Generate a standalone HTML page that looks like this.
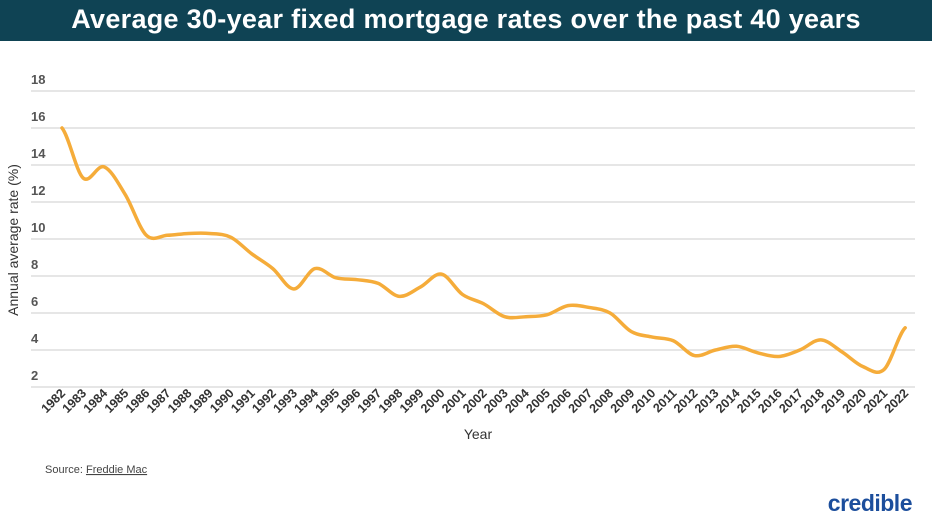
<!DOCTYPE html>
<html><head><meta charset="utf-8"><style>
body{margin:0;width:932px;height:524px;background:#fff;overflow:hidden;font-family:"Liberation Sans",sans-serif}
.t{position:absolute;left:0;top:0;width:932px;height:41px;background:#0f4354;color:#fff;font-weight:bold;font-size:27px;text-align:center;line-height:38px;letter-spacing:0.3px}
</style></head><body>
<div class="t">Average 30-year fixed mortgage rates over the past 40 years</div>
<svg width="932" height="524" style="position:absolute;left:0;top:0" id="s">
<g id="g"></g>
<text x="18" y="240" transform="rotate(-90 18 240)" text-anchor="middle" font-size="14" fill="#333" font-family="Liberation Sans">Annual average rate (%)</text>
<text x="478" y="439" text-anchor="middle" font-size="14" fill="#333" font-family="Liberation Sans">Year</text>
<text x="45" y="473" font-size="11" fill="#444" font-family="Liberation Sans">Source: <tspan text-decoration="underline">Freddie Mac</tspan></text>
<text x="912" y="511" text-anchor="end" font-size="23" font-weight="bold" fill="#1c4e9c" font-family="Liberation Sans" letter-spacing="-0.5">credible</text>
</svg>
<script>
var d=[16.0,13.3,13.9,12.4,10.2,10.2,10.3,10.3,10.1,9.2,8.4,7.3,8.4,7.9,7.8,7.6,6.9,7.4,8.1,7.0,6.5,5.8,5.8,5.9,6.4,6.3,6.0,5.0,4.7,4.5,3.7,4.0,4.2,3.85,3.65,4.0,4.55,3.9,3.1,2.95,5.2];
var g=document.getElementById('g'),h='';
function Y(v){return 387-(v-2)*18.5}
function X(i){return 62+i*21.08}
for(var v=2;v<=18;v+=2){var y=Y(v);h+='<line x1="31" x2="915" y1="'+y+'" y2="'+y+'" stroke="#d6d6d6" stroke-width="1.2"/><text x="31" y="'+(y-7)+'" font-size="13" font-weight="bold" fill="#555" font-family="Liberation Sans">'+v+'</text>';}
for(var i=0;i<d.length;i++){var x=X(i)+4,y=394;h+='<text x="'+x+'" y="'+y+'" transform="rotate(-45 '+x+' '+y+')" text-anchor="end" font-size="12.5" font-weight="bold" fill="#333" font-family="Liberation Sans">'+(1982+i)+'</text>';}
var p='M'+X(0)+' '+Y(d[0]);
for(i=0;i<d.length-1;i++){var a=d[Math.max(i-1,0)],b=d[i],c=d[i+1],e=d[Math.min(i+2,d.length-1)];
var c1x=X(i)+21.08/3,c1y=Y(b)+(Y(c)-Y(a))/6,c2x=X(i+1)-21.08/3,c2y=Y(c)-(Y(e)-Y(b))/6;
p+=' C'+c1x+' '+c1y+' '+c2x+' '+c2y+' '+X(i+1)+' '+Y(c);}
h+='<path d="'+p+'" fill="none" stroke="#f5ac3a" stroke-width="3.5" stroke-linecap="round" stroke-linejoin="round"/>';
g.innerHTML=h;
</script>
</body></html>
